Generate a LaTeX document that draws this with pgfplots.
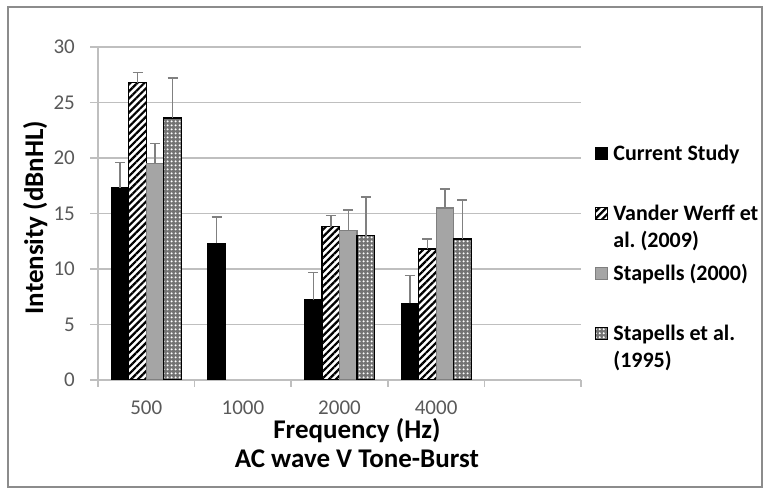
\documentclass[border=0pt]{standalone}
\usepackage{fontspec}
\setmainfont{Carlito}
\usepackage{pgfplots}
\pgfplotsset{compat=1.18}
\usetikzlibrary{patterns.meta}
\definecolor{tickgray}{HTML}{595959}
\definecolor{gridgray}{HTML}{BFBFBF}
\definecolor{bargray}{HTML}{A5A5A5}
\definecolor{bargrayedge}{HTML}{7F7F7F}
\definecolor{errgray}{HTML}{808080}
\definecolor{framegray}{HTML}{8C8C8C}
\frenchspacing

\pgfplotstableread{
x y e
0 17.3 2.3
1 12.3 2.4
2 7.2 2.5
3 6.9 2.5
}\current
\pgfplotstableread{
x y e
0 26.8 0.9
2 13.8 1.0
3 11.8 0.9
}\vanderwerff
\pgfplotstableread{
x y e
0 19.5 1.8
2 13.5 1.8
3 15.5 1.7
}\stapellsA
\pgfplotstableread{
x y e
0 23.6 3.6
2 13.0 3.5
3 12.7 3.5
}\stapellsB

\begin{document}
\begin{tikzpicture}[x=1pt,y=1pt]
\path[use as bounding box] (0,0) rectangle (770,489);
\draw[framegray, line width=2pt] (8,2) rectangle (762,482);
\begin{axis}[
  at={(98pt,109pt)}, anchor=south west,
  scale only axis, width=483pt, height=333pt,
  ybar=0pt, bar width=17.5pt,
  xmin=-0.5, xmax=4.5, ymin=0, ymax=30,
  xtick={0,1,2,3}, xticklabels={500,1000,2000,4000},
  minor xtick={-0.5,0.5,1.5,2.5,3.5,4.5},
  ytick={0,5,...,30},
  axis x line*=bottom, axis y line*=left,
  axis line style={gridgray, line width=1.5pt},
  ymajorgrids, grid style={gridgray, line width=1.5pt},
  tick align=outside,
  major tick length=8pt, minor tick length=7pt,
  tick style={gridgray, line width=1.5pt},
  major x tick style={draw=none},
  /pgf/number format/assume math mode=true,
  tick label style={font=\fontsize{21}{25}\selectfont, text=tickgray},
  yticklabel style={anchor=east, inner xsep=0pt, xshift=-15pt},
  xticklabel style={anchor=base, yshift=-26pt},
  xlabel={Frequency (Hz)},
  xlabel style={at={(axis description cs:0.536,-0.175)}, anchor=base, inner sep=0pt, font=\bfseries\fontsize{27}{31}\selectfont},
  ylabel={Intensity (dBnHL)},
  ylabel style={at={(axis description cs:-0.130,0.4875)}, anchor=center, font=\bfseries\fontsize{27}{31}\selectfont},
  extra description/.code={\node[anchor=base, inner sep=0pt, font=\bfseries\fontsize{27}{31}\selectfont] at (axis description cs:0.536,-0.264) {AC wave V Tone-Burst};},
  legend style={at={(axis description cs:1.029,0.7087)}, anchor=north west, draw=none, fill=none, inner sep=0pt, row sep=0pt, column sep=5pt, font=\bfseries\fontsize{22}{27}\selectfont, cells={anchor=base west}, nodes={inner sep=0pt, text height=16pt, text depth=44pt}},
  legend image code/.code={\draw[#1] (0pt,1pt) rectangle (12pt,13pt);},
  error bars/error bar style={errgray, line width=1.5pt},
  error bars/error mark options={errgray, line width=1.5pt, mark size=5pt, rotate=90},
]
\addplot[fill=black, draw=black, line width=1.2pt,
  error bars/.cd, y dir=plus, y explicit]
  table[x=x, y=y, y error=e] {\current};
\addlegendentry{Current Study}
\addplot[fill=white, draw=black, line width=1.2pt,
  postaction={pattern={Lines[angle=45,distance=5pt,line width=2.2pt]}, pattern color=black},
  error bars/.cd, y dir=plus, y explicit]
  table[x=x, y=y, y error=e] {\vanderwerff};
\addlegendentry{\vtop{\hbox{Vander Werff et}\hbox{al. (2009)}}}
\addplot[fill=bargray, draw=bargrayedge, line width=1.2pt,
  error bars/.cd, y dir=plus, y explicit]
  table[x=x, y=y, y error=e] {\stapellsA};
\addlegendentry{Stapells (2000)}
\addplot[fill=black!55, draw=black, line width=1.2pt,
  postaction={pattern={Dots[distance=4pt,radius=1.3pt]}, pattern color=white},
  error bars/.cd, y dir=plus, y explicit]
  table[x=x, y=y, y error=e] {\stapellsB};
\addlegendentry{\vtop{\hbox{Stapells et al.}\hbox{(1995)}}}
\end{axis}
\end{tikzpicture}
\end{document}
